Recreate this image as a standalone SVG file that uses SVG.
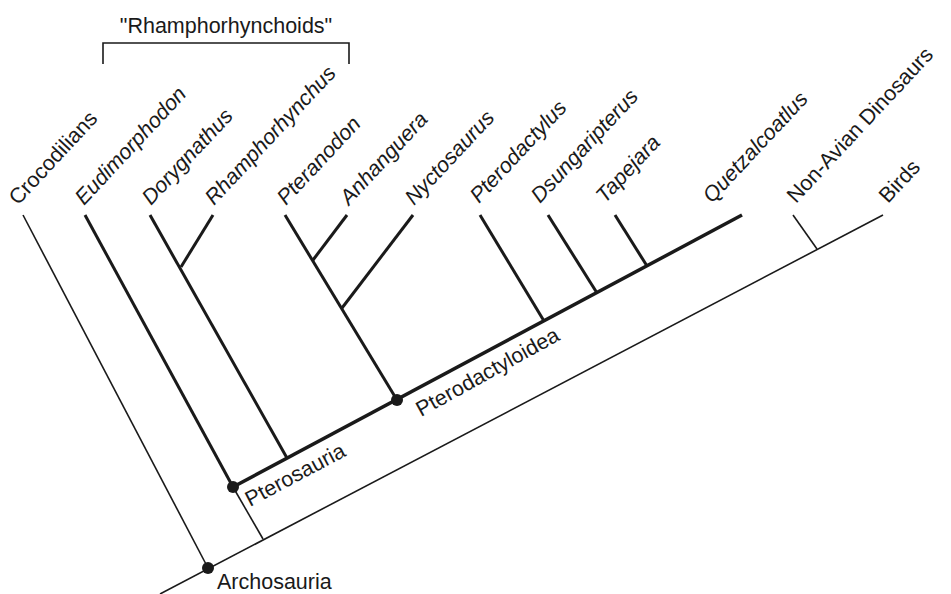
<svg xmlns="http://www.w3.org/2000/svg" width="951" height="594" viewBox="0 0 951 594">
<style>
.thin{stroke:#1a1a1a;stroke-width:1.6;fill:none;stroke-linecap:butt}
.thick{stroke:#1a1a1a;stroke-width:3;fill:none}
.trunk{stroke:#1a1a1a;stroke-width:3.5;fill:none}
text{font-family:"Liberation Sans",Arial,sans-serif;font-size:21.5px;fill:#1a1a1a}
.it{font-style:italic}
.node{fill:#1a1a1a}
</style>
<rect width="951" height="594" fill="#fff"/>
<g id="connectors">
<line class="thin" x1="160" y1="594" x2="883" y2="215"/>
<line class="thin" x1="23" y1="215" x2="208" y2="568"/>
<line class="thin" x1="793" y1="215" x2="817" y2="249"/>
<line class="thin" x1="233" y1="487" x2="263" y2="539"/>
<line class="trunk" x1="233" y1="487" x2="742" y2="215"/>
<line class="thick" x1="85" y1="215" x2="233" y2="487"/>
<line class="thick" x1="150" y1="215" x2="287" y2="458"/>
<line class="thick" x1="213" y1="215" x2="181" y2="267"/>
<line class="thick" x1="285" y1="215" x2="397" y2="400"/>
<line class="thick" x1="347" y1="215" x2="313" y2="260"/>
<line class="thick" x1="413" y1="215" x2="342" y2="308"/>
<line class="thick" x1="480" y1="215" x2="544" y2="321"/>
<line class="thick" x1="548" y1="215" x2="597" y2="293"/>
<line class="thick" x1="615" y1="215" x2="647" y2="266"/>
</g>
<g id="bracket">
<path class="thin" d="M103,64 V43 H349 V64"/>
<text x="226" y="33" text-anchor="middle">"Rhamphorhynchoids"</text>
</g>
<g id="archosauria"><circle class="node" cx="208" cy="568" r="6"/><text x="217" y="589">Archosauria</text></g>
<g id="pterosauria"><circle class="node" cx="233" cy="487" r="6"/><text transform="translate(250,507) rotate(-28)">Pterosauria</text></g>
<g id="pterodactyloidea"><circle class="node" cx="397" cy="400" r="6"/><text transform="translate(421,417) rotate(-29)">Pterodactyloidea</text></g>
<g id="crocodilians"><text transform="translate(18,206) rotate(-47)">Crocodilians</text></g>
<g id="eudimorphodon"><text class="it" transform="translate(84,206) rotate(-47)">Eudimorphodon</text></g>
<g id="dorygnathus"><text class="it" transform="translate(151,206) rotate(-47)">Dorygnathus</text></g>
<g id="rhamphorhynchus"><text class="it" transform="translate(214,206) rotate(-47)">Rhamphorhynchus</text></g>
<g id="pteranodon"><text class="it" transform="translate(286,206) rotate(-47)">Pteranodon</text></g>
<g id="anhanguera"><text class="it" transform="translate(349,206) rotate(-47)">Anhanguera</text></g>
<g id="nyctosaurus"><text class="it" transform="translate(414,206) rotate(-47)">Nyctosaurus</text></g>
<g id="pterodactylus"><text class="it" transform="translate(479,204) rotate(-47)">Pterodactylus</text></g>
<g id="dsungaripterus"><text class="it" transform="translate(540,204) rotate(-47)">Dsungaripterus</text></g>
<g id="tapejara"><text class="it" transform="translate(605,204) rotate(-47)">Tapejara</text></g>
<g id="quetzalcoatlus"><text class="it" transform="translate(712,204) rotate(-47)">Quetzalcoatlus</text></g>
<g id="nonavian"><text transform="translate(796,204) rotate(-47)">Non-Avian Dinosaurs</text></g>
<g id="birds"><text transform="translate(888,204) rotate(-47)">Birds</text></g>
</svg>
